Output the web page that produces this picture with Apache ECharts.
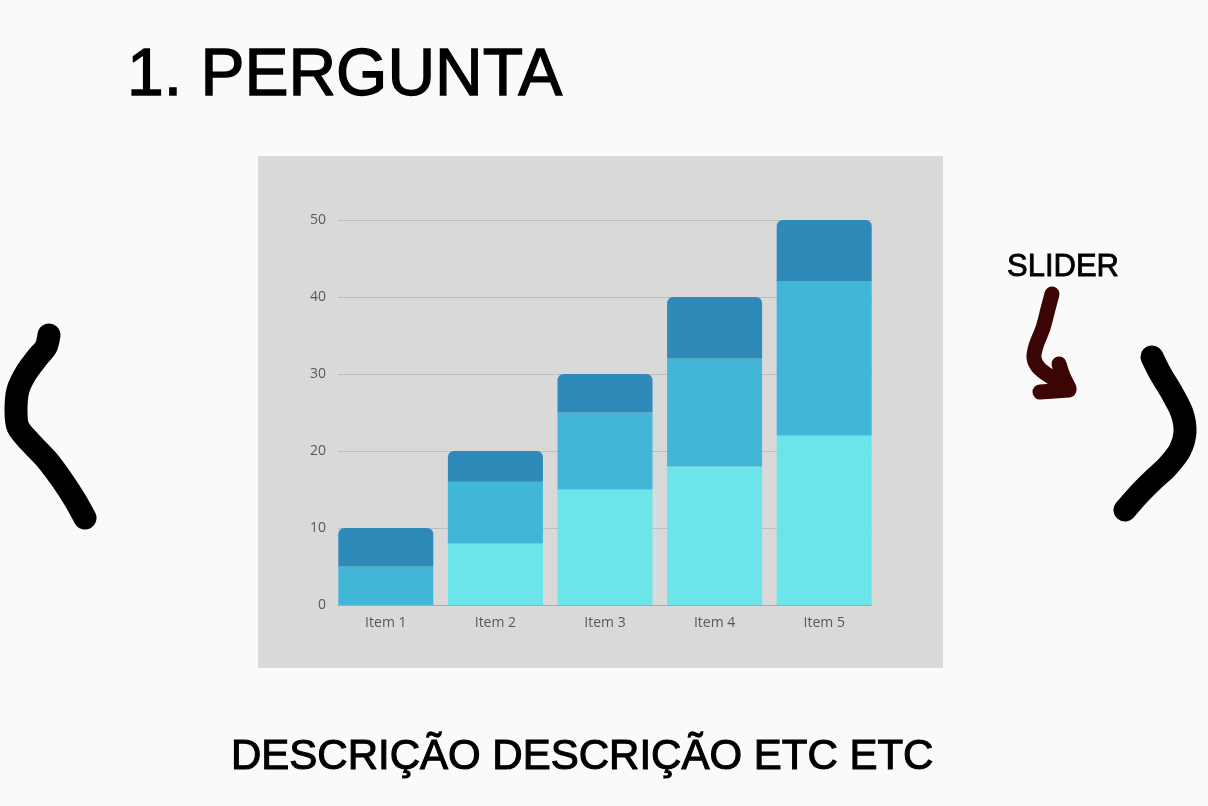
<!DOCTYPE html>
<html>
<head>
<meta charset="utf-8">
<script src="https://cdn.jsdelivr.net/npm/echarts@6/dist/echarts.min.js"></script>
<style>
html,body{margin:0;padding:0;background:#fafafa;}
#c{width:1208px;height:806px;}
</style>
</head>
<body>
<div id="c"></div>
<script>
const categories = ['Item 1', 'Item 2', 'Item 3', 'Item 4', 'Item 5'];
const bottomValues = [0, 8, 15, 18, 22];
const middleValues = [5, 8, 10, 14, 20];
const topValues = [5, 4, 5, 8, 8];
const yTicks = [0, 10, 20, 30, 40, 50];

const titleText = '1. PERGUNTA';
const sliderText = 'SLIDER';
const descText = 'DESCRIÇÃO DESCRIÇÃO ETC ETC';

const chart = echarts.init(document.getElementById('c'), null, {renderer: 'canvas'});

const leftBracket = [[49,335],[46,347],[37,358],[26,373],[18,390],[16,410],[18,427],[30,442],[47,460],[62,480],[75,500],[85,518]];
const rightBracket = [[1152,357],[1160,373],[1172,393],[1182,413],[1185,432],[1180,450],[1167,467],[1153,480],[1140,493],[1125,510]];
const arrowBody = [[1052,294],[1048,309],[1043,328],[1036,346],[1034,358],[1039,368],[1051,377],[1066,386]];
const arrowHead1 = [[1059,364],[1063,376],[1069,388]];
const arrowHead2 = [[1069,390],[1040,392]];

function stroke(points, color, w, smooth) {
  return {
    type: 'polyline',
    shape: {points: points, smooth: smooth},
    style: {stroke: color, lineWidth: w, lineCap: 'round', lineJoin: 'round', fill: null},
    silent: true,
    z: 10
  };
}

function label(text, x, y, size, weightStroke) {
  return {
    type: 'text',
    style: {
      text: text, x: x, y: y,
      font: size + 'px "Liberation Sans", Arial, sans-serif',
      fill: '#000', stroke: '#000', lineWidth: weightStroke,
      verticalAlign: 'middle', align: 'left'
    },
    silent: true
  };
}

const labelStyle = {color: '#5a5a5a', fontSize: 14, fontFamily: 'Open Sans'};

const option = {
  backgroundColor: '#fafafa',
  animation: false,
  grid: [
    {left: 331, top: 220, width: 548, height: 385},
    {left: 338, top: 220, width: 534, height: 385}
  ],
  xAxis: [
    {
      gridIndex: 0, type: 'category', data: categories,
      axisLine: {show: false}, axisTick: {show: false},
      axisLabel: Object.assign({margin: 11}, labelStyle)
    },
    {
      gridIndex: 1, type: 'category', data: categories,
      axisLine: {show: true, lineStyle: {color: '#a9a9a9', width: 1}},
      axisTick: {show: false}, axisLabel: {show: false}
    }
  ],
  yAxis: [
    {gridIndex: 0, type: 'value', min: yTicks[0], max: yTicks[yTicks.length-1], interval: 10, show: false},
    {
      gridIndex: 1, type: 'value', min: yTicks[0], max: yTicks[yTicks.length-1], interval: 10,
      axisLine: {show: false}, axisTick: {show: false},
      axisLabel: Object.assign({margin: 12}, labelStyle),
      splitLine: {lineStyle: {color: '#bdbdbd', width: 1}}
    }
  ],
  series: [
    {type: 'bar', stack: 's', data: bottomValues, barWidth: 95, xAxisIndex: 0, yAxisIndex: 0,
     itemStyle: {color: '#6be5e9'}, silent: true},
    {type: 'bar', stack: 's', data: middleValues, barWidth: 95, xAxisIndex: 0, yAxisIndex: 0,
     itemStyle: {color: '#41b6d6'}, silent: true},
    {type: 'bar', stack: 's', data: topValues, barWidth: 95, xAxisIndex: 0, yAxisIndex: 0,
     itemStyle: {color: '#2d8ab9', borderRadius: [6, 6, 0, 0]}, silent: true}
  ],
  graphic: [
    {type: 'rect', shape: {x: 258, y: 156, width: 685, height: 512}, style: {fill: '#d9d9d9'}, z: -10, silent: true},
    label(titleText, 127, 77, 66, 1.3),
    label(sliderText, 1007, 267, 31, 0.8),
    label(descText, 231, 757, 42, 1.1),
    stroke(leftBracket, '#000', 23, 0.3),
    stroke(rightBracket, '#000', 23, 0.3),
    stroke(arrowBody, '#3b0505', 15, 0.3),
    stroke(arrowHead1, '#3b0505', 15, 0.2),
    stroke(arrowHead2, '#3b0505', 15, 0)
  ]
};
chart.setOption(option);
</script>
</body>
</html>
